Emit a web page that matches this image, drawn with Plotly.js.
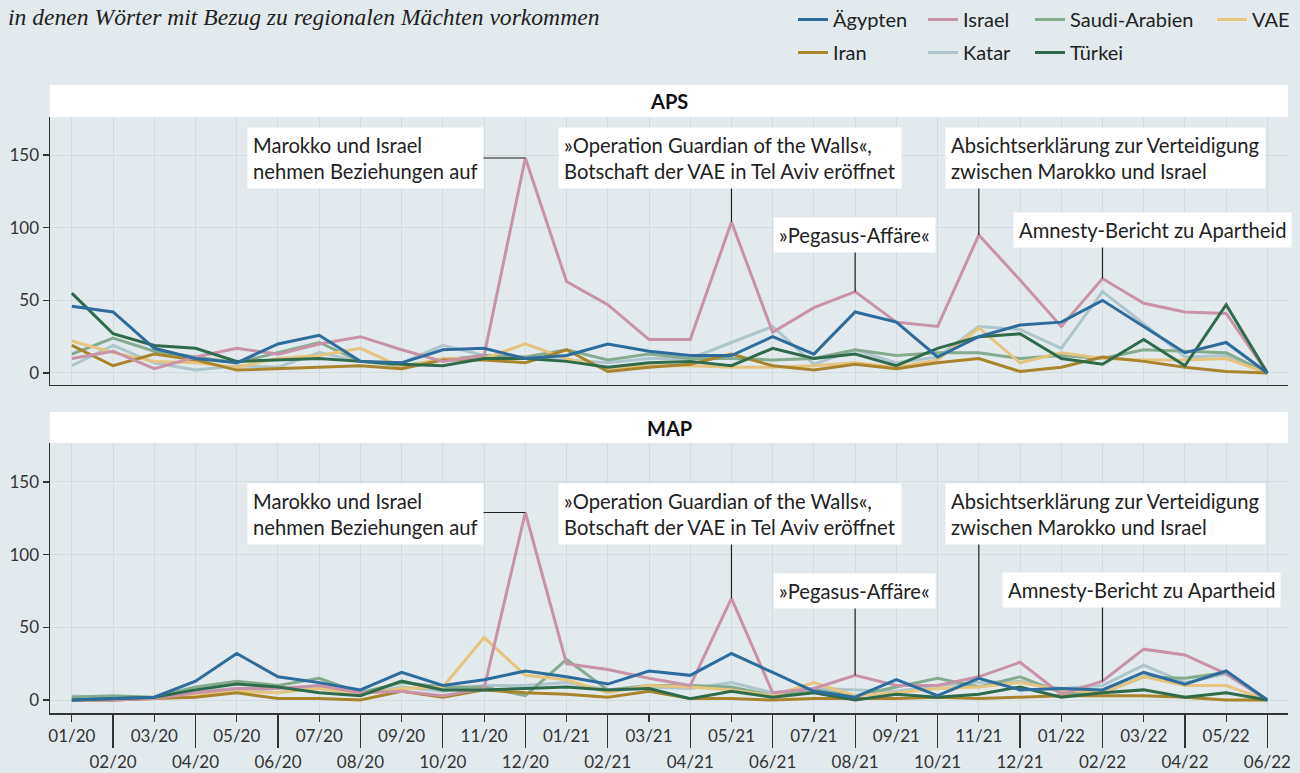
<!DOCTYPE html>
<html>
<head>
<meta charset="utf-8">
<script src="https://cdn.plot.ly/plotly-3.0.1.min.js"></script>
<style>html,body{margin:0;padding:0;background:#e3eaed;}</style>
</head>
<body>
<div id="chart" style="width:1300px;height:773px;"></div>
<script>
const months = ['01/20','02/20','03/20','04/20','05/20','06/20','07/20','08/20','09/20','10/20','11/20','12/20',
  '01/21','02/21','03/21','04/21','05/21','06/21','07/21','08/21','09/21','10/21','11/21','12/21',
  '01/22','02/22','03/22','04/22','05/22','06/22'];

// APS
const aegyptenAPS = [46,42,17,10,7,20,26,8,7,16,17,10,12,20,15,12,12,25,13,42,35,11,25,33,35,50,32,14,21,0];
const israelAPS   = [10,15,3,11,17,13,20,25,16,8,12,148,63,47,23,23,104,28,45,56,35,32,95,64,32,65,48,42,41,0];
const saudiAPS    = [13,24,15,11,7,14,21,8,5,9,12,11,16,9,13,10,10,9,10,16,12,14,14,10,12,10,16,15,14,0];
const vaeAPS      = [22,14,8,7,4,10,12,17,4,10,10,20,10,3,5,5,4,4,5,7,4,9,31,7,14,10,9,9,10,0];
const iranAPS     = [19,5,13,9,2,3,4,5,3,9,9,7,16,1,4,6,13,5,2,6,3,7,10,1,4,11,8,4,1,0];
const katarAPS    = [5,19,7,2,5,4,14,8,7,19,12,10,9,7,10,10,21,32,6,16,7,11,32,30,17,56,34,11,12,0];
const tuerkeiAPS  = [55,27,19,17,8,9,10,8,6,5,10,10,8,4,7,8,5,17,10,13,5,17,25,27,10,6,23,5,47,0];

// MAP
const aegyptenMAP = [0,1,2,13,32,16,12,7,19,10,14,20,16,11,20,17,32,19,6,2,14,3,15,7,8,7,19,11,20,0];
const israelMAP   = [0,0,1,5,8,8,10,5,6,3,8,129,25,21,15,10,70,5,8,17,10,10,16,26,4,13,35,31,18,0];
const saudiMAP    = [2,3,2,9,13,10,15,5,12,9,9,3,28,7,10,10,9,3,7,3,9,15,9,16,5,5,16,15,19,0];
const vaeMAP      = [0,0,1,4,6,5,8,4,8,9,43,17,14,5,10,9,7,3,12,3,5,8,9,12,7,5,16,10,10,0];
const iranMAP     = [0,0,1,2,5,1,1,0,6,2,7,5,4,2,6,1,1,0,1,1,1,2,1,2,3,3,3,2,0,0];
const katarMAP    = [3,1,2,6,8,5,10,4,9,6,10,10,12,7,9,8,12,5,8,7,6,10,12,13,8,10,24,12,18,0];
const tuerkeiMAP  = [0,1,2,7,11,9,5,3,13,7,7,8,9,7,8,1,6,2,5,0,4,2,4,9,2,5,7,2,5,0];

const yTicks = [0,50,100,150];

const countries = [
  {name:'Katar',         color:'#adc5cc', aps:katarAPS,    map:katarMAP,    legend:'legend2', rank:2},
  {name:'Saudi-Arabien', color:'#84ab8e', aps:saudiAPS,    map:saudiMAP,    legend:'legend3', rank:1},
  {name:'VAE',           color:'#e5c47f', aps:vaeAPS,      map:vaeMAP,      legend:'legend4', rank:1},
  {name:'Iran',          color:'#a8842d', aps:iranAPS,     map:iranMAP,     legend:'legend',  rank:2},
  {name:'Israel',        color:'#c893a9', aps:israelAPS,   map:israelMAP,   legend:'legend2', rank:1},
  {name:'Türkei',        color:'#2f6b4b', aps:tuerkeiAPS,  map:tuerkeiMAP,  legend:'legend3', rank:2},
  {name:'Ägypten',       color:'#2d6c9b', aps:aegyptenAPS, map:aegyptenMAP, legend:'legend',  rank:1}
];

const idx = months.map((m, i) => i);
const rowB = idx.filter(i => i % 2 === 1);

const traces = [];
countries.forEach(c => {
  traces.push({x: idx, y: c.aps, xaxis:'x', yaxis:'y', type:'scatter', mode:'lines', name:c.name,
    legendgroup:c.name, legend:c.legend, legendrank:c.rank, line:{color:c.color, width:3}, showlegend:true});
  traces.push({x: idx, y: c.map, xaxis:'x2', yaxis:'y2', type:'scatter', mode:'lines', name:c.name,
    legendgroup:c.name, line:{color:c.color, width:3}, showlegend:false});
});

const FONT = 'Lato, "Open Sans", sans-serif';
const bg = '#e3eaed';
const grid = '#d2dbdf';
const axisCol = '#333333';
const xr = [-0.53, 29.5];

const topDom = [0.5223, 0.9490];
const botDom = [0, 0.4299];

const baseX = {range: xr, type:'linear', showgrid:true, gridcolor:grid, gridwidth:1, zeroline:false,
  showline:true, linecolor:axisCol, linewidth:1.5, fixedrange:true};
const baseY = {type:'linear', tickvals:yTicks, ticktext:yTicks.map(String), showgrid:true, gridcolor:grid, gridwidth:1,
  zeroline:false, showline:true, linecolor:axisCol, linewidth:1.5, ticks:'outside', ticklen:6, tickwidth:1.2,
  tickcolor:axisCol, tickfont:{family:FONT, size:17, color:'#333'}, fixedrange:true};

// annotations: connector lines first, boxes afterwards (boxes hide the line tails)
function connector(xref, yref, i, series, ax, ay) {
  return {xref, yref, x: idx[i], y: series[i], text:'', showarrow:true, arrowhead:0, arrowwidth:1.2,
    arrowcolor:'#222', ax, ay, standoff:0, startstandoff:0};
}
function box(xref, yref, x, y, text) {
  return {xref, yref, x, y, xanchor:'left', yanchor:'top', text, showarrow:false, align:'left',
    bgcolor:'#ffffff', borderpad:5, font:{family:FONT, size:20.2, color:'#222'}};
}
const txtMarokko = 'Marokko und Israel<br>nehmen Beziehungen auf';
const txtOperation = '»Operation Guardian of the Walls«,<br>Botschaft der VAE in Tel Aviv eröffnet';
const txtPegasus = '»Pegasus-Affäre«';
const txtAbsicht = 'Absichtserklärung zur Verteidigung<br>zwischen Marokko und Israel';
const txtAmnesty = 'Amnesty-Bericht zu Apartheid';

const annotations = [
  connector('x','y',11,israelAPS,-60,0),
  connector('x','y',16,israelAPS,0,-60),
  connector('x','y',19,israelAPS,0,-55),
  connector('x','y',22,israelAPS,0,-65),
  connector('x','y',25,israelAPS,0,-50),
  connector('x2','y2',11,israelMAP,-60,0),
  connector('x2','y2',16,israelMAP,0,-85),
  connector('x2','y2',19,israelMAP,0,-86),
  connector('x2','y2',22,israelMAP,0,-165),
  connector('x2','y2',25,israelMAP,0,-93),
  box('x','y',4.25,169.3,txtMarokko),
  box('x','y',11.80,169.3,txtOperation),
  box('x','y',17.01,107.3,txtPegasus),
  box('x','y',21.19,169.3,txtAbsicht),
  box('x','y',22.82,110.8,txtAmnesty),
  box('x2','y2',4.25,149.3,txtMarokko),
  box('x2','y2',11.80,149.3,txtOperation),
  box('x2','y2',17.01,87.4,txtPegasus),
  box('x2','y2',21.19,149.3,txtAbsicht),
  box('x2','y2',22.57,88.1,txtAmnesty),
  {xref:'paper', yref:'paper', x:0.5, y:(topDom[1]+1)/2, yanchor:'middle', text:'<b>APS</b>', showarrow:false,
    font:{family:FONT, size:20, color:'#111'}},
  {xref:'paper', yref:'paper', x:0.5, y:(botDom[1]+0.4793)/2, yanchor:'middle', text:'<b>MAP</b>', showarrow:false,
    font:{family:FONT, size:20, color:'#111'}}
];

const shapes = [
  {type:'rect', xref:'paper', yref:'paper', x0:0, x1:1, y0:topDom[1], y1:1.0, fillcolor:'#ffffff', line:{width:0}, layer:'below'},
  {type:'rect', xref:'paper', yref:'paper', x0:0, x1:1, y0:botDom[1], y1:0.4793, fillcolor:'#ffffff', line:{width:0}, layer:'below'}
];

const legendBase = {orientation:'v', yref:'container', xref:'container', yanchor:'top', xanchor:'left',
  y: 1, bgcolor:'rgba(0,0,0,0)', font:{family:FONT, size:20, color:'#222'}, tracegroupgap:4,
  itemclick:false, itemdoubleclick:false};

const layout = {
  width:1300, height:773,
  paper_bgcolor:bg, plot_bgcolor:bg,
  margin:{l:50, r:12, t:85, b:60, autoexpand:false},
  title:{text:'in denen Wörter mit Bezug zu regionalen Mächten vorkommen', x:8/1300, xanchor:'left',
    xref:'container', yref:'container', y:1-17/773, yanchor:'middle',
    font:{family:'"Liberation Serif", "DejaVu Serif", serif', size:23.6, style:'italic', color:'#222'}},
  showlegend:true,
  legend: Object.assign({}, legendBase, {x:793/1300}),
  legend2: Object.assign({}, legendBase, {x:923/1300}),
  legend3: Object.assign({}, legendBase, {x:1030/1300}),
  legend4: Object.assign({}, legendBase, {x:1212/1300}),
  xaxis: Object.assign({}, baseX, {anchor:'y', domain:[0,1], tickvals:idx, ticktext:months.map(() => ''),
    ticks:'', showticklabels:false}),
  yaxis: Object.assign({}, baseY, {anchor:'x', domain:topDom, range:[-8.26, 176.2]}),
  xaxis2: Object.assign({}, baseX, {anchor:'y2', domain:[0,1], tickvals:idx,
    ticktext:idx.map(i => i % 2 === 0 ? months[i] : ''), ticks:'outside', ticklen:7, tickwidth:1.2, tickcolor:axisCol,
    tickfont:{family:FONT, size:17, color:'#333'}, tickangle:0}),
  xaxis3: {overlaying:'x2', anchor:'y2', side:'bottom', range:xr, type:'linear', tickvals:rowB,
    ticktext:rowB.map(i => months[i]), ticks:'outside', ticklen:34, tickwidth:1.2, tickcolor:axisCol,
    showgrid:false, zeroline:false, showline:false, tickfont:{family:FONT, size:17, color:'#333'}, tickangle:0, fixedrange:true},
  yaxis2: Object.assign({}, baseY, {anchor:'x2', domain:botDom, range:[-8.9, 176.8]}),
  annotations, shapes
};

traces.push({x:[], y:[], xaxis:'x3', yaxis:'y2', type:'scatter', mode:'lines', showlegend:false, hoverinfo:'skip'});

Plotly.newPlot('chart', traces, layout, {displayModeBar:false, staticPlot:true});
</script>
</body>
</html>
